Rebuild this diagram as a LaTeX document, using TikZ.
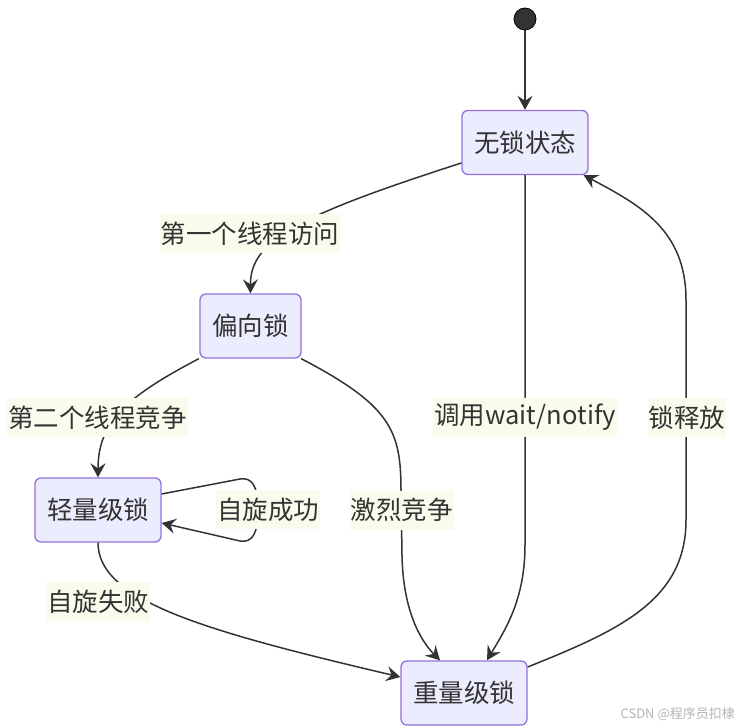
\documentclass[tikz,border=0pt]{standalone}
\usepackage{fontspec}
\setmainfont{Noto Sans CJK SC}
\usetikzlibrary{arrows.meta}
\definecolor{nodefill}{HTML}{ECECFF}
\definecolor{nodeline}{HTML}{9370DB}
\definecolor{ink}{HTML}{333333}
\definecolor{lblbg}{RGB}{248,252,236}
\definecolor{wm}{HTML}{B4B4B4}
\tikzset{
  statebox/.style={draw=nodeline, fill=nodefill, line width=1.3pt, rounded corners=6pt,
    text=ink, font=\fontsize{25.5}{29}\selectfont, inner xsep=0pt, inner ysep=0pt,
    minimum height=64pt},
  lbl/.style={fill=lblbg, text=ink, font=\fontsize{25.5}{29}\selectfont,
    inner xsep=1pt, inner ysep=0pt, minimum height=39pt},
  edge/.style={draw=ink, line width=1.5pt,
    -{Stealth[length=14pt,width=15pt,inset=5pt]}},
}
\begin{document}
\begin{tikzpicture}[x=1pt,y=-1pt]
\useasboundingbox (0,0) rectangle (737,727);
% nodes
\node[circle, fill=ink, draw=black, line width=0.8pt, minimum size=22pt, inner sep=0pt] (start) at (525,19) {};
\node[statebox, minimum width=126pt] (n1) at (525,142.5) {无锁状态};
\node[statebox, minimum width=101pt] (n2) at (250.5,326) {偏向锁};
\node[statebox, minimum width=126pt] (n3) at (98,510) {轻量级锁};
\node[statebox, minimum width=126pt] (n4) at (464,693) {重量级锁};

% edges
\draw[edge] (start.south) -- (n1.north);
\draw[edge] ([yshift=-20.5pt]n1.west) .. controls (300,215) and (250,240) .. (n2.north);
\draw[edge] ([xshift=-0.5pt]n2.south west) .. controls (130,395) and (98,420) .. (n3.north);
\draw[edge] ([yshift=16pt]n3.east) -- (240,479) .. controls (252,477) and (258,486) .. (258,510)
   .. controls (258,534) and (252,543) .. (240,541) -- ([yshift=-13pt]n3.east);
\draw[edge] (n3.south) .. controls (98,600) and (200,630) .. ([yshift=16pt]n4.west);
\draw[edge] ([xshift=-0.5pt]n2.south east) .. controls (390,405) and (401,430) .. (401,490) -- (402,555)
   .. controls (403,610) and (420,640) .. ([xshift=-24pt]n4.north);
\draw[edge] (n1.south) -- (525,545) .. controls (525,600) and (505,630) .. ([xshift=23pt]n4.north);
\draw[edge] ([yshift=26pt]n4.east) .. controls (620,630) and (686,600) .. (686,520) -- (686,300)
   .. controls (686,230) and (640,205) .. ([xshift=-5pt]n1.south east);

% edge labels
\node[lbl] (l1) at (250,234) {第一个线程访问};
\node[lbl] (l2) at (97.5,417.5) {第二个线程竞争};
\node[lbl] (l3) at (268,509.5) {自旋成功};
\node[lbl] (l4) at (98,601.5) {自旋失败};
\node[lbl] (l5) at (401.5,510) {激烈竞争};
\node[lbl] (l6) at (525,417.5) {调用wait/notify};
\node[lbl] (l7) at (687,417.5) {锁释放};

% watermark
\node[text=wm, font=\fontsize{13}{15}\selectfont, anchor=east, inner sep=0pt] (wmk) at (735,714) {CSDN @程序员扣棣};
\end{tikzpicture}
\end{document}
